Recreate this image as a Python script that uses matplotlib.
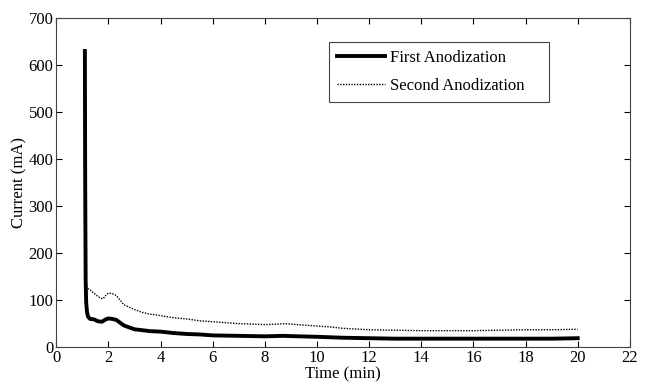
import matplotlib
matplotlib.use('agg')
import matplotlib.pyplot as plt

plt.rcParams['font.family'] = ['Liberation Serif', 'DejaVu Serif']
plt.rcParams['font.size'] = 12

# first anodization (time in min, current in mA)
t1 = [1.10, 1.11, 1.12, 1.13, 1.15, 1.18, 1.22, 1.3, 1.45, 1.6, 1.75, 1.9, 2.0,
      2.15, 2.3, 2.45, 2.6, 2.8, 3.0, 3.3, 3.6, 4.0, 4.5, 5.0, 5.5, 6.0, 7.0, 8.0,
      8.7, 9.3, 10.0, 11.0, 12.0, 13.0, 14.0, 15.0, 16.0, 17.0, 18.0, 19.0, 20.0]
i1 = [630, 380, 250, 140, 95, 75, 65, 60, 59, 55, 54, 59, 61,
      60, 58, 52, 46, 42, 38, 36, 34, 33, 30, 28, 27, 25, 24, 23,
      24, 23, 22, 20, 19, 18, 18, 18, 18, 18, 18, 18, 19]

# second anodization
t2 = [1.10, 1.11, 1.12, 1.14, 1.17, 1.2, 1.3, 1.4, 1.55, 1.7, 1.8, 1.9, 2.0, 2.15,
      2.3, 2.45, 2.6, 2.8, 3.0, 3.3, 3.6, 3.8, 4.2, 4.6, 5.0, 5.5, 6.0, 6.5, 7.0,
      7.5, 8.0, 8.5, 8.8, 9.2, 10.0, 10.5, 11.0, 12.0, 13.0, 14.0, 15.0, 16.0, 17.0,
      18.0, 19.0, 20.0]
i2 = [260, 200, 160, 140, 130, 125, 122, 117, 110, 104, 103, 110, 115, 114,
      110, 100, 90, 85, 80, 74, 70, 69, 65, 62, 60, 56, 54, 52, 50,
      49, 48, 49, 50, 48, 45, 43, 40, 37, 36, 35, 35, 35, 36, 37, 37, 38]

fig = plt.figure(figsize=(6.46, 3.84), dpi=100)
ax = fig.add_axes([0.087, 0.096, 0.888, 0.857])

ax.plot(t1, i1, color='black', linewidth=2.8, label='First Anodization')
ax.plot(t2, i2, color='black', linewidth=1.0, linestyle=(0, (1, 1)),
        label='Second Anodization')

ax.set_xlim(0, 22)
ax.set_ylim(0, 700)
ax.set_xticks(range(0, 23, 2))
ax.set_yticks(range(0, 701, 100))
ax.set_xlabel('Time (min)', labelpad=0)
ax.set_ylabel('Current (mA)', labelpad=1)
ax.tick_params(direction='in', top=True, right=True, length=4, pad=2)
for s in ax.spines.values():
    s.set_color('#444444')

leg = ax.legend(loc='upper left', bbox_to_anchor=(0.4756, 0.5, 0.383, 0.427),
                mode='expand', borderaxespad=0, fancybox=False,
                edgecolor='#444444', framealpha=1, handlelength=2.9,
                handletextpad=0.3, borderpad=0.45, labelspacing=0.75)
leg.get_frame().set_linewidth(0.8)

plt.savefig('out.png', dpi=100)
